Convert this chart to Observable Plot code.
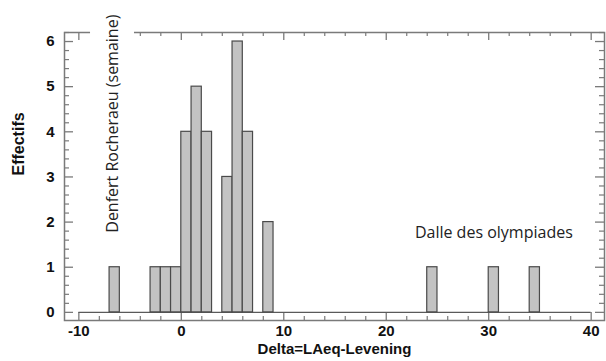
<!DOCTYPE html>
<html><head><meta charset="utf-8">
<script src="https://cdn.jsdelivr.net/npm/d3@7"></script>
<script src="https://cdn.jsdelivr.net/npm/@observablehq/plot@0.6"></script>
<style>body{margin:0;background:#fff} #chart svg{display:block}</style>
</head><body><div id="chart"></div><script>
// Histogram data (bin start, count), bin width 1
const binStarts = [-7, -3, -2, -1, 0, 1, 2, 4, 5, 6, 8, 24, 30, 34];
const counts    = [ 1,  1,  1,  1, 4, 5, 4, 3, 6, 4, 2,  1,  1,  1];
const binWidth = 1;
const baselineRange = [-10, 40];

const xMajorTicks = [-10, 0, 10, 20, 30, 40];
const xMinorTicks = [-8, -6, -4, -2, 2, 4, 6, 8, 12, 14, 16, 18, 22, 24, 26, 28, 32, 34, 36, 38];
const yMajorTicks = [0, 1, 2, 3, 4, 5, 6];
const yMinorTicks = [0.2,0.4,0.6,0.8,1.2,1.4,1.6,1.8,2.2,2.4,2.6,2.8,3.2,3.4,3.6,3.8,4.2,4.4,4.6,4.8,5.2,5.4,5.6,5.8,6.2];

const xTitle = "Delta=LAeq-Levening";
const yTitle = "Effectifs";

const annotText = ["Denfert Rocheraeu (semaine)", "Dalle des olympiades"];
const annotX = [-6.72, 30.5];
const annotY = [4.18, 1.77];
const annotRotate = [-90, 0];
const maskBox = {x1: -8.86, x2: -4.57, y1: 1.6, y2: 6.8};

const bars = binStarts.map((s, i) => ({x1: s, x2: s + binWidth, y: counts[i]}));

const W = 606, H = 361, mL = 64, mR = 2, mT = 32, mB = 41;
const innerW = W - mL - mR, innerH = H - mT - mB;
const axisColor = "#7a7a7a";
const labelFont = "'Liberation Sans', Arial, sans-serif";
const annFont = "'Open Sans', sans-serif";

const plot = Plot.plot({
  width: W, height: H,
  marginLeft: mL, marginRight: mR, marginTop: mT, marginBottom: mB,
  style: {fontFamily: labelFont, background: "#fff", overflow: "visible"},
  x: {domain: [-11.4, 41.3], axis: null},
  y: {domain: [-0.18, 6.2], axis: null},
  marks: [
    Plot.frame({stroke: axisColor, strokeWidth: 1.5}),
    // bottom ticks
    Plot.tickX(xMajorTicks, {x: d => d, insetTop: innerH - 8, stroke: axisColor, strokeWidth: 1.3}),
    Plot.tickX(xMinorTicks, {x: d => d, insetTop: innerH - 4, stroke: axisColor, strokeWidth: 1.2}),
    // top ticks
    Plot.tickX(xMajorTicks, {x: d => d, insetBottom: innerH - 8, stroke: axisColor, strokeWidth: 1.3}),
    Plot.tickX(xMinorTicks, {x: d => d, insetBottom: innerH - 4, stroke: axisColor, strokeWidth: 1.2}),
    // left ticks
    Plot.tickY(yMajorTicks, {y: d => d, insetRight: innerW - 9, stroke: axisColor, strokeWidth: 1.3}),
    Plot.tickY(yMinorTicks, {y: d => d, insetRight: innerW - 5, stroke: axisColor, strokeWidth: 1.2}),
    // right ticks
    Plot.tickY(yMajorTicks, {y: d => d, insetLeft: innerW - 9, stroke: axisColor, strokeWidth: 1.3}),
    Plot.tickY(yMinorTicks, {y: d => d, insetLeft: innerW - 5, stroke: axisColor, strokeWidth: 1.2}),
    // baseline
    Plot.ruleY([0], {x1: baselineRange[0], x2: baselineRange[1], stroke: "#5a5a5a", strokeWidth: 1.3}),
    // bars
    Plot.rectY(bars, {x1: "x1", x2: "x2", y: "y", fill: "#c3c3c3", stroke: "#4a4a4a", strokeWidth: 1.2}),
    // tick labels
    Plot.text(xMajorTicks, {x: d => d, frameAnchor: "bottom", dy: 15, text: d => String(d),
      fontSize: 15, fontWeight: "bold", fill: "#111"}),
    Plot.text(yMajorTicks, {y: d => d, frameAnchor: "left", dx: -10, textAnchor: "end", text: d => String(d),
      fontSize: 15, fontWeight: "bold", fill: "#111"}),
    // axis titles
    Plot.text([xTitle], {frameAnchor: "bottom", dy: 33, text: d => d, fontSize: 15, fontWeight: "bold", fill: "#111"}),
    Plot.text([yTitle], {frameAnchor: "left", dx: -(mL - 18.5), dy: -1, rotate: -90, text: d => d,
      fontSize: 16, fontWeight: "bold", fill: "#111"}),
    // white box behind rotated annotation
    Plot.rect([maskBox], {x1: "x1", x2: "x2", y1: "y1", y2: "y2", fill: "white"}),
    // annotations
    Plot.text([0], {x: () => annotX[0], y: () => annotY[0], text: () => annotText[0], rotate: annotRotate[0],
      fontFamily: annFont, fontSize: 16, fill: "#222"}),
    Plot.text([1], {x: () => annotX[1], y: () => annotY[1], text: () => annotText[1], rotate: annotRotate[1],
      fontFamily: annFont, fontSize: 16, fill: "#222"})
  ]
});
document.getElementById("chart").append(plot);
</script></body></html>
